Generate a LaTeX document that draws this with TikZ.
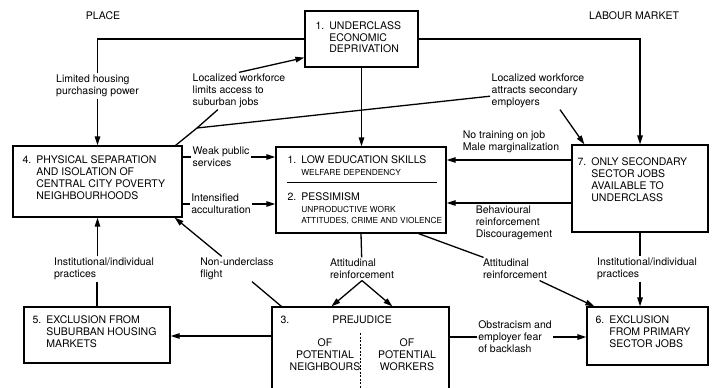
\documentclass[tikz,border=0pt]{standalone}
\usepackage{fontspec}
\setmainfont{TeX Gyre Heros}
\usetikzlibrary{arrows.meta,positioning}

\newcommand{\numtext}[2]{\begin{tabular}[t]{@{}l@{\hspace{5pt}}l@{}}#1 & \begin{tabular}[t]{@{}l@{}}#2\end{tabular}\end{tabular}}
\newcommand{\smalltext}{\fontsize{8.3}{11}\selectfont}

\begin{document}
\begin{tikzpicture}[x=1pt, y=-1pt,
    every node/.style={font=\fontsize{10.5}{12}\selectfont, inner sep=1pt},
    box/.style={draw, line width=1.2pt, inner sep=0pt},
    boxtext/.style={anchor=base west},
    lbl/.style={align=left},
    >={Triangle[length=9pt,width=5.5pt]}, line width=1.3pt
    ]
    \useasboundingbox (0,0) rectangle (715,388);

    % Headings
    \node (place) at (103,16) {PLACE};
    \node (labour) at (634,16) {LABOUR MARKET};

    % Boxes
    \node[box, minimum width=113, minimum height=56] (b1) at (361.5,39) {};
    \node[box, minimum width=169, minimum height=71] (b4) at (97.5,181.5) {};
    \node[box, minimum width=170, minimum height=86] (b2) at (361,190) {};
    \node[box, minimum width=136, minimum height=87] (b7) at (640,188.5) {};
    \node[box, minimum width=146, minimum height=56] (b5) at (97,335) {};
    \node[box, minimum width=177, minimum height=84] (b3) at (360.5,349) {};
    \node[box, minimum width=121, minimum height=58] (b6) at (647.5,336) {};

    % Box texts
    \node[boxtext] (t1) at (314,29) {\numtext{1.}{UNDERCLASS\\ECONOMIC\\DEPRIVATION}};
    \node[boxtext] (t4) at (21,163) {\numtext{4.}{PHYSICAL SEPARATION\\AND ISOLATION OF\\CENTRAL CITY POVERTY\\NEIGHBOURHOODS}};
    \node[boxtext] (t7) at (576,165) {\numtext{7.}{ONLY SECONDARY\\SECTOR JOBS\\AVAILABLE TO\\UNDERCLASS}};
    \node[boxtext] (t5) at (31,323) {\numtext{5.}{EXCLUSION FROM\\SUBURBAN HOUSING\\MARKETS}};
    \node[boxtext] (t6) at (594,323) {\numtext{6.}{EXCLUSION\\FROM PRIMARY\\SECTOR JOBS}};
    \node[boxtext] (t2a) at (286,163) {\numtext{1.}{LOW EDUCATION SKILLS\\{\smalltext WELFARE DEPENDENCY}}};
    \node[boxtext] (t2b) at (286,200) {\numtext{2.}{PESSIMISM\\{\smalltext UNPRODUCTIVE WORK}\\[-1pt]{\smalltext ATTITUDES, CRIME AND VIOLENCE}}};
    \draw[line width=0.9pt] (287,182) -- (437,182);
    \node[boxtext] (t3) at (279,323) {3.};
    \node[anchor=base] (t3h) at (362,323) {PREJUDICE};
    \node[anchor=base] (t3l) at (325,346) {\begin{tabular}[t]{@{}c@{}}OF\\POTENTIAL\\NEIGHBOURS\end{tabular}};
    \node[anchor=base] (t3r) at (407,346) {\begin{tabular}[t]{@{}c@{}}OF\\POTENTIAL\\WORKERS\end{tabular}};
    \draw[line width=0.9pt, dash pattern=on 2pt off 1.5pt] (360,333) -- (360,388);

    % Labels
    \node[lbl] (lhp) at (97.5,86) {Limited housing\\purchasing power};
    \node[lbl] (lla) at (239,91) {Localized workforce\\limits access to\\suburban jobs};
    \node[lbl] (las) at (538,91) {Localized workforce\\attracts secondary\\employers};
    \node[lbl] (lnt) at (511,142) {No training on job\\Male marginalization};
    \node[lbl] (lwp) at (221,157) {Weak public\\services};
    \node[lbl] (lia) at (221,204) {Intensified\\acculturation};
    \node[lbl] (lbr) at (514,223) {Behavioural\\reinforcement\\Discouragement};
    \node[lbl] (lip) at (104,269) {Institutional/individual\\practices};
    \node[lbl] (lnf) at (237,269) {Non-underclass\\flight};
    \node[lbl] (lar1) at (362,269) {Attitudinal\\reinforcement};
    \node[lbl] (lar2) at (515,269) {Attitudinal\\reinforcement};
    \node[lbl] (lip2) at (647,269) {Institutional/individual\\practices};
    \node[lbl] (lob) at (515,337) {Obstracism and\\employer fear\\of backlash};

    \coordinate (fork) at (197,128);
    \coordinate (r1) at (0,160);
    \coordinate (r2) at (0,203);
    \coordinate (r3) at (0,336);

    % Connectors
    \draw (b1.west) -| (lhp.north);
    \draw[->] (lhp.south) -- (b4.north);
    \draw[->] (b1.east) -| (b7.north);
    \draw[->] (b1.south) -- (b1.south |- b2.north);
    \draw ([xshift=-7pt]b4.north east) -- (fork) -- (lla);
    \draw[->] (lla.north) -- ([yshift=10pt]b1.south west);
    \draw (fork) -- (las);
    \draw[->] ([xshift=22pt]las.south) -- ([xshift=13pt]b7.north west);
    \draw (b4.east |- lwp) -- (lwp);
    \draw[->] (lwp) -- (b2.west |- lwp);
    \draw (b4.east |- lia) -- (lia);
    \draw[->] (lia) -- (b2.west |- lia);
    \draw[->] (b7.west |- r1) -- (b2.east |- r1);
    \draw[->] (b7.west |- r2) -- (b2.east |- r2);
    \draw (b5.north) -- (b5.north |- lip.south);
    \draw[->] (b4.south |- lip.north) -- (b4.south);
    \draw[->] (b3.west |- r3) -- (b5.east |- r3);
    \draw ([xshift=10pt]b3.north west) -- (lnf);
    \draw[->] (lnf) -- ([xshift=-8pt]b4.south east);
    \draw (b2.south) -- (lar1);
    \draw[->] (lar1.south) -- ([xshift=60pt]b3.north west);
    \draw[->] (lar1.south) -- ([xshift=121pt]b3.north west);
    \draw ([xshift=-28pt]b2.south east) -- (lar2);
    \draw[->] (lar2) -- ([xshift=8pt]b6.north west);
    \draw (b7.south) -- (b7.south |- lip2.north);
    \draw[->] (b7.south |- lip2.south) -- (b7.south |- b6.north);
    \draw (b3.east |- lob) -- (lob);
    \draw[->] (lob) -- (b6.west |- lob);

\end{tikzpicture}
\end{document}
